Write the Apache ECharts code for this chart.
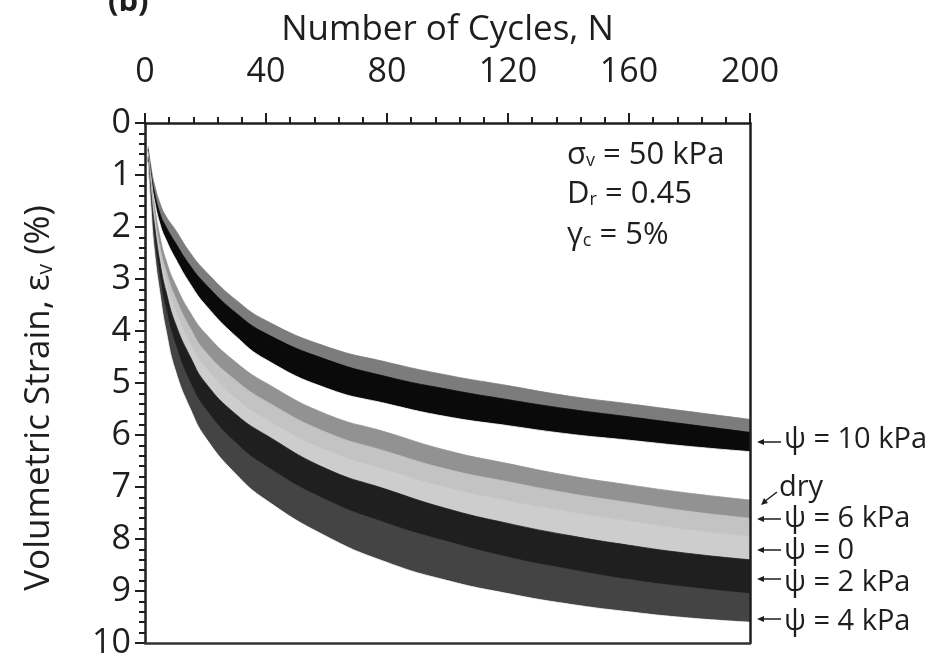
<!DOCTYPE html>
<html>
<head>
<meta charset="utf-8">
<script src="https://cdn.jsdelivr.net/npm/echarts@6/dist/echarts.min.js"></script>
<style>
  html, body { margin: 0; padding: 0; background: #fff; }
  #main { width: 934px; height: 663px; }
</style>
</head>
<body>
<div id="main"></div>
<script>
// number of cycles where the band edges were read
const cycles = [1, 2, 3, 5, 7, 10, 15, 20, 30, 40, 60, 80, 100, 120, 140, 160, 180, 200];

// band edges, volumetric strain (%)
const psi10Top = [0.45, 0.85, 1.15, 1.55, 1.8, 2.05, 2.5, 2.85, 3.4, 3.8, 4.3, 4.6, 4.85, 5.05, 5.25, 5.4, 5.55, 5.7];
const psi10Mid = [0.5, 0.95, 1.3, 1.75, 2.0, 2.3, 2.75, 3.1, 3.65, 4.05, 4.55, 4.88, 5.12, 5.32, 5.5, 5.65, 5.8, 5.95];
const psi10Bot = [0.55, 1.05, 1.45, 1.95, 2.25, 2.6, 3.1, 3.5, 4.1, 4.55, 5.1, 5.4, 5.65, 5.82, 5.98, 6.1, 6.22, 6.32];
const dryTop = [0.55, 1.1, 1.55, 2.2, 2.65, 3.1, 3.65, 4.05, 4.6, 5.0, 5.6, 5.95, 6.3, 6.55, 6.78, 6.96, 7.12, 7.25];
const dryBot = [0.6, 1.2, 1.7, 2.4, 2.85, 3.35, 3.95, 4.4, 4.95, 5.35, 5.95, 6.32, 6.66, 6.9, 7.12, 7.3, 7.47, 7.6];
const psi6Bot = [0.62, 1.28, 1.8, 2.55, 3.05, 3.6, 4.25, 4.7, 5.3, 5.7, 6.3, 6.68, 7.02, 7.27, 7.48, 7.66, 7.83, 7.95];
const psi0Bot = [0.65, 1.35, 1.9, 2.7, 3.25, 3.85, 4.5, 5.0, 5.6, 6.0, 6.65, 7.05, 7.42, 7.7, 7.93, 8.12, 8.28, 8.4];
const psi2Bot = [0.7, 1.5, 2.15, 3.0, 3.6, 4.25, 5.0, 5.5, 6.15, 6.6, 7.25, 7.7, 8.05, 8.35, 8.58, 8.78, 8.93, 9.05];
const psi4Bot = [0.75, 1.65, 2.4, 3.3, 4.0, 4.75, 5.5, 6.05, 6.75, 7.25, 7.95, 8.45, 8.8, 9.05, 9.25, 9.4, 9.52, 9.6];

// axis ticks
const xTicks = [0, 40, 80, 120, 160, 200];
const yTicks = [0, 1, 2, 3, 4, 5, 6, 7, 8, 9, 10];

const font = 'Open Sans';
const ink = '#1e1e1e';

// each edge fills down to the bottom of the plot; later layers paint over earlier ones
function layer(edge, color) {
  return {
    type: 'line', silent: true, symbol: 'none',
    smooth: 0.5,
    lineStyle: { width: 0.8, color: color },
    areaStyle: { color: color, opacity: 1, origin: 'end' },
    data: cycles.map((n, i) => [n, edge[i]])
  };
}

const series = [
  layer(psi10Top, '#7c7c7c'),
  layer(psi10Mid, '#0a0a0a'),
  layer(psi10Bot, '#ffffff'),
  layer(dryTop, '#929292'),
  layer(dryBot, '#c3c3c3'),
  layer(psi6Bot, '#cdcdcd'),
  layer(psi0Bot, '#1f1f1f'),
  layer(psi2Bot, '#444444'),
  layer(psi4Bot, '#ffffff')
];

const chart = echarts.init(document.getElementById('main'));

function arrow(x, y) {
  return [
    { type: 'line', z: 20, shape: { x1: x + 4, y1: y, x2: x + 24, y2: y }, style: { stroke: ink, lineWidth: 1.5 } },
    { type: 'polygon', z: 20, shape: { points: [[x, y], [x + 7, y - 3], [x + 7, y + 3]] }, style: { fill: ink } }
  ];
}

const labelStyle = { fontSize: 29, fontFamily: font, fill: ink };
const noteStyle = { fontSize: 31, fontFamily: font, fill: ink };
const sub = { fontSize: 18, fontFamily: font, fill: ink, padding: [11, 0, 0, 0] };

const graphics = [
  { type: 'text', left: 108, top: -13, style: { text: '(b)', fontSize: 31, fontWeight: 'bold', fontFamily: font, fill: ink } },
  { type: 'text', left: 567, top: 140, z: 20, style: { text: '{m|σ}{s|v}{m| = 50 kPa}', rich: { m: noteStyle, s: sub } } },
  { type: 'text', left: 567, top: 179, z: 20, style: { text: '{m|D}{s|r}{m| = 0.45}', rich: { m: noteStyle, s: sub } } },
  { type: 'text', left: 567, top: 220, z: 20, style: { text: '{m|γ}{s|c}{m| = 5%}', rich: { m: noteStyle, s: sub } } },
  { type: 'text', left: 784, top: 425, style: Object.assign({ text: 'ψ = 10 kPa' }, labelStyle) },
  { type: 'text', left: 779, top: 473, style: Object.assign({ text: 'dry' }, labelStyle) },
  { type: 'text', left: 784, top: 504, style: Object.assign({ text: 'ψ = 6 kPa' }, labelStyle) },
  { type: 'text', left: 784, top: 536, style: Object.assign({ text: 'ψ = 0' }, labelStyle) },
  { type: 'text', left: 784, top: 568, style: Object.assign({ text: 'ψ = 2 kPa' }, labelStyle) },
  { type: 'text', left: 784, top: 607, style: Object.assign({ text: 'ψ = 4 kPa' }, labelStyle) },
  { type: 'line', z: 20, shape: { x1: 764, y1: 502, x2: 777, y2: 492 }, style: { stroke: ink, lineWidth: 1.5 } },
  { type: 'polygon', z: 20, shape: { points: [[761, 505], [764, 498], [768, 503]] }, style: { fill: ink } }
].concat(arrow(757, 442), arrow(757, 519), arrow(757, 550), arrow(757, 579), arrow(757, 619));

const option = {
  backgroundColor: '#fff',
  animation: false,
  grid: { left: 145, right: 184, top: 123, bottom: 20 },
  xAxis: [
    {
      type: 'value', position: 'top',
      min: xTicks[0], max: xTicks[xTicks.length - 1], interval: xTicks[1] - xTicks[0],
      name: 'Number of Cycles, N', nameLocation: 'middle', nameGap: 75,
      nameTextStyle: { fontSize: 35, fontFamily: font, color: ink },
      axisLine: { lineStyle: { color: ink, width: 2.5 } },
      axisTick: { inside: false, length: 10, lineStyle: { color: ink, width: 2 } },
      minorTick: { show: true, splitNumber: 5, length: 6, lineStyle: { color: ink, width: 2 } },
      axisLabel: { fontSize: 34, fontFamily: font, color: ink, margin: 34 },
      splitLine: { show: false }
    },
    {
      type: 'value', position: 'bottom', z: 10,
      min: xTicks[0], max: xTicks[xTicks.length - 1],
      axisLine: { show: true, onZero: false, lineStyle: { color: '#333', width: 2.5 } },
      axisTick: { show: false }, axisLabel: { show: false }, splitLine: { show: false }
    }
  ],
  yAxis: [
    {
      type: 'value', inverse: true,
      min: yTicks[0], max: yTicks[yTicks.length - 1], interval: yTicks[1] - yTicks[0],
      name: 'Volumetric Strain, ε{s|v} (%)', nameLocation: 'middle', nameGap: 88,
      nameTextStyle: {
        fontSize: 35, fontFamily: font, color: ink, padding: [0, 30, 0, 0],
        rich: { s: { fontSize: 21, fontFamily: font, color: ink, padding: [14, 0, 0, 0] } }
      },
      axisLine: { lineStyle: { color: ink, width: 2.5 } },
      axisTick: { inside: false, length: 10, lineStyle: { color: ink, width: 2 } },
      minorTick: { show: true, splitNumber: 5, length: 6, lineStyle: { color: ink, width: 2 } },
      axisLabel: { fontSize: 34, fontFamily: font, color: ink, margin: 14 },
      splitLine: { show: false }
    },
    {
      type: 'value', position: 'right', inverse: true, z: 10,
      min: yTicks[0], max: yTicks[yTicks.length - 1],
      axisLine: { show: true, onZero: false, lineStyle: { color: ink, width: 2.5 } },
      axisTick: { show: false }, axisLabel: { show: false }, splitLine: { show: false }
    }
  ],
  series: series,
  graphic: graphics
};

chart.setOption(option);
</script>
</body>
</html>
